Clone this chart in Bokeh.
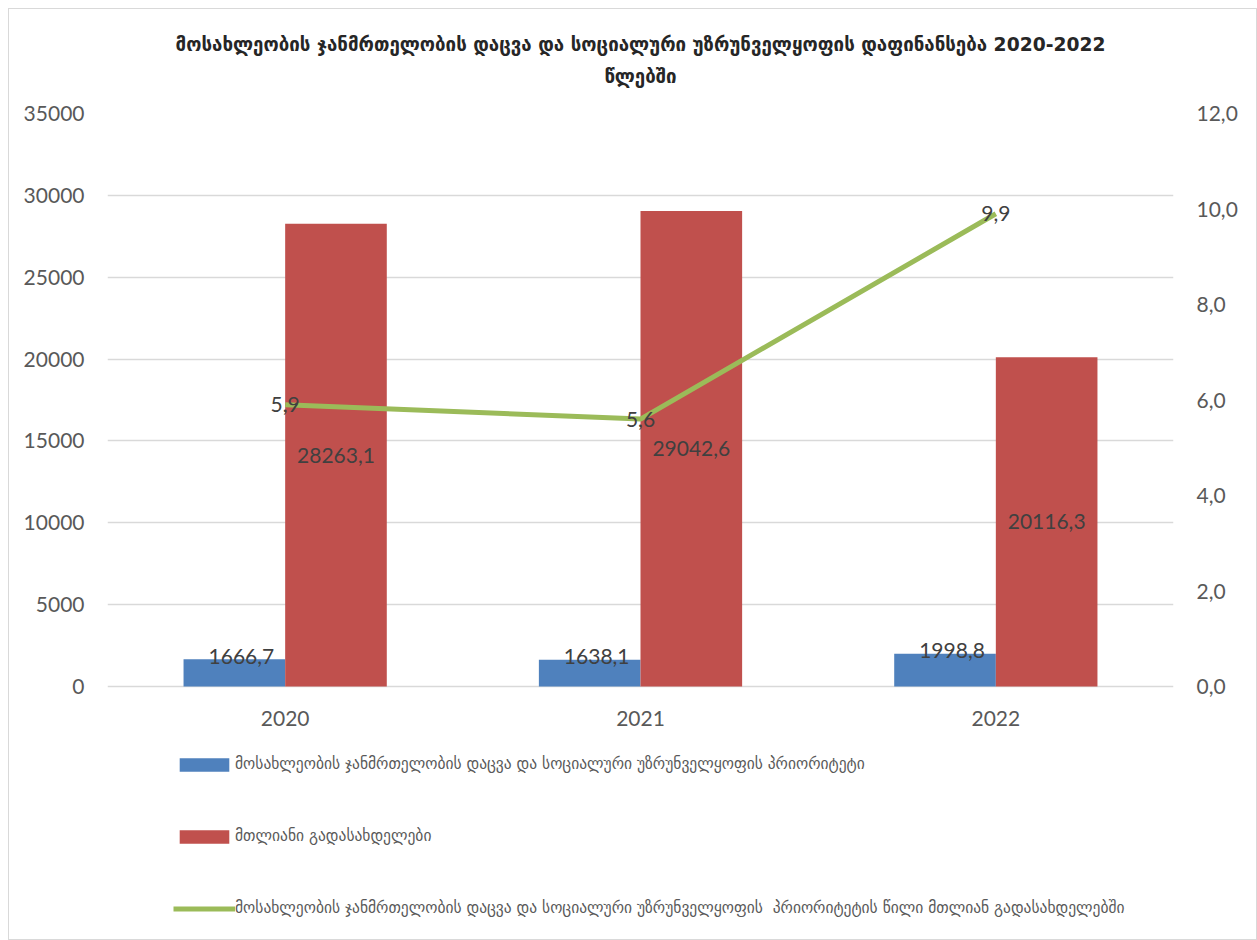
from bokeh.plotting import figure
from bokeh.models import (FactorRange, Range1d, LinearAxis, FixedTicker, Legend,
                          LegendItem, Title, ColumnDataSource)
from bokeh.transform import dodge
from bokeh.core.properties import value
from bokeh.embed import file_html
from bokeh.resources import INLINE

years = ["2020", "2021", "2022"]
priority = [1666.7, 1638.1, 1998.8]
total = [28263.1, 29042.6, 20116.3]
share = [5.9, 5.6, 9.9]
left_ticks = [0, 5000, 10000, 15000, 20000, 25000, 30000, 35000]
right_ticks = [0, 2, 4, 6, 8, 10, 12]
right_tick_labels = ["0,0", "2,0", "4,0", "6,0", "8,0", "10,0", "12,0"]

title_line1 = "მოსახლეობის ჯანმრთელობის დაცვა და სოციალური უზრუნველყოფის დაფინანსება 2020-2022"
title_line2 = "წლებში"
legend_labels = [
    "მოსახლეობის ჯანმრთელობის დაცვა და სოციალური უზრუნველყოფის პრიორიტეტი",
    "მთლიანი გადასახდელები",
    "მოსახლეობის ჯანმრთელობის დაცვა და სოციალური უზრუნველყოფის  პრიორიტეტის წილი მთლიან გადასახდელებში",
]

BLUE, RED, GREEN = "#4F81BD", "#C0504D", "#9BBB59"
NUM_FONT = value("Lato")

# plot-area geometry (pixels): value axis spans 573 px, legend zone 247 px below zero
AXIS_PX, LEGEND_PX = 573, 247
Y_MAX, PCT_MAX = 35000, 12


def fmt(v):
    return f"{v:.1f}".replace(".", ",")


src = ColumnDataSource(dict(
    year=years, priority=priority, total=total, share=share,
    zero=[0] * len(years),
    total_mid=[t / 2 for t in total],
    pl=[fmt(v) for v in priority], tl=[fmt(v) for v in total], sl=[fmt(v) for v in share],
))

p = figure(x_range=FactorRange(factors=years, range_padding=0),
           y_range=Range1d(-Y_MAX * LEGEND_PX / AXIS_PX, Y_MAX),
           width=1249, height=932, output_backend="svg", toolbar_location=None, title=None,
           min_border_left=98, min_border_right=85, min_border_top=104, min_border_bottom=8)
p.margin = (8, 0, 0, 8)
p.extra_y_ranges = {"pct": Range1d(-PCT_MAX * LEGEND_PX / AXIS_PX, PCT_MAX)}
p.outline_line_color = None
p.background_fill_color = "white"
p.border_fill_color = "white"

# axes
ya = p.yaxis[0]
ya.ticker = FixedTicker(ticks=left_ticks)
ya.major_label_standoff = 23
ra = LinearAxis(y_range_name="pct", ticker=FixedTicker(ticks=right_ticks),
                major_label_overrides={t: l for t, l in zip(right_ticks, right_tick_labels)})
ra.major_label_standoff = 23
p.add_layout(ra, "right")
p.xaxis.visible = False
for ax in (ya, ra):
    ax.axis_line_color = None
    ax.major_tick_line_color = None
    ax.minor_tick_line_color = None
    ax.major_tick_in = 0
    ax.major_tick_out = 0
    ax.major_label_text_font = "Lato"
    ax.major_label_text_font_size = "21px"
    ax.major_label_text_color = "#595959"

p.xgrid.grid_line_color = None
p.ygrid.ticker = FixedTicker(ticks=left_ticks)
p.ygrid.grid_line_color = "#d9d9d9"
p.ygrid.grid_line_width = 1.5

r1 = p.vbar(x=dodge("year", -0.143, range=p.x_range), top="priority", width=0.286,
            source=src, fill_color=BLUE, line_color=None)
r2 = p.vbar(x=dodge("year", 0.143, range=p.x_range), top="total", width=0.286,
            source=src, fill_color=RED, line_color=None)
r3 = p.line(x="year", y="share", y_range_name="pct", source=src,
            line_color=GREEN, line_width=5)

# category labels under the zero line
p.text(x="year", y="zero", text="year", source=src, y_offset=32,
       text_font=NUM_FONT, text_font_size="21px", text_color="#595959",
       text_align="center", text_baseline="middle")

lab = dict(text_font=NUM_FONT, text_font_size="21px", text_color="#404040",
           text_align="center", text_baseline="middle")
p.text(x=dodge("year", -0.143, range=p.x_range), y="priority", text="pl", source=src,
       x_offset=7, y_offset=-3, **lab)
p.text(x=dodge("year", 0.143, range=p.x_range), y="total_mid", text="tl", source=src, **lab)
p.text(x="year", y="share", text="sl", y_range_name="pct", source=src, **lab)

legend = Legend(items=[LegendItem(label=legend_labels[0], renderers=[r1]),
                       LegendItem(label=legend_labels[1], renderers=[r2]),
                       LegendItem(label=legend_labels[2], renderers=[r3])],
                location=(66, 16), orientation="vertical",
                glyph_width=62, glyph_height=17, label_height=17, label_standoff=0,
                spacing=54, padding=0, margin=0, border_line_color=None,
                background_fill_alpha=0, label_text_font="DejaVu Sans",
                label_text_font_size="15.5px", label_text_color="#595959",
                label_text_baseline="top")
p.add_layout(legend, "center")

spacer = Title(text=" ", text_font_size="1px", standoff=17)
t2 = Title(text=title_line2, align="center", text_font="DejaVu Sans",
           text_font_size="18.7px", text_font_style="bold", text_color="#262626",
           standoff=13)
t1 = Title(text=title_line1, align="center", text_font="DejaVu Sans",
           text_font_size="18.7px", text_font_style="bold", text_color="#262626",
           standoff=5)
p.add_layout(spacer, "above")
p.add_layout(t2, "above")
p.add_layout(t1, "above")

p.styles = {"border": "1px solid #d9d9d9"}

open("out.html", "w").write(file_html(p, INLINE))
